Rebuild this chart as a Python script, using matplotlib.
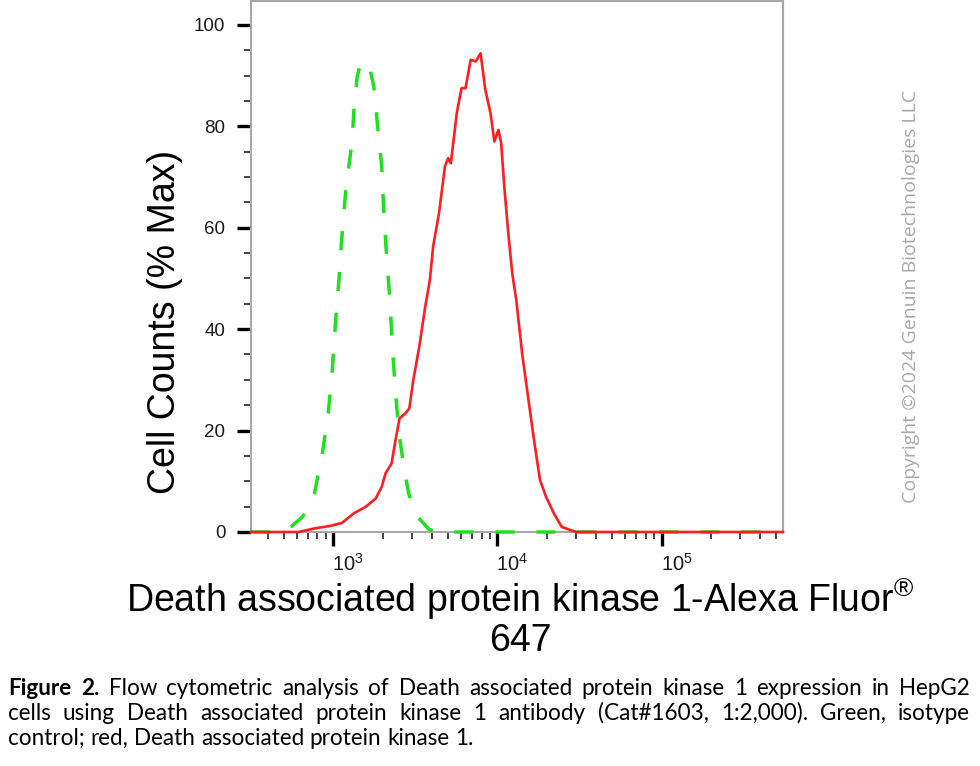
import numpy as np
import matplotlib
matplotlib.use("Agg")
import matplotlib.pyplot as plt
import matplotlib.transforms as mtransforms
from matplotlib import font_manager
from matplotlib.ticker import FixedLocator, MultipleLocator, LogLocator, NullFormatter

# ---------------- data ----------------
green_x = [315, 480, 550, 649, 767, 857, 931, 985, 1040, 1082, 1119, 1195, 1298, 1335,
           1397, 1476, 1667, 1764, 1863, 1971, 2027, 2105, 2202, 2325, 2431, 2528, 2672,
           2874, 3250, 3838, 4300, 549000]
green_y = [0, 0, 1.0, 3.0, 7.6, 15.5, 23.4, 32.0, 43.1, 49.7, 56.9, 68.1, 76.7, 83.2,
           89.8, 92.8, 91.5, 87.8, 79.9, 72.1, 63.5, 55.0, 46.4, 33.3, 24.7, 18.8, 13.5,
           7.6, 3.0, 0.5, 0, 0]

red_x = [315, 614, 767, 958, 1130, 1335, 1579, 1811, 1971, 2081, 2263, 2392, 2531, 2749,
         2904, 3071, 3337, 3628, 3873, 4055, 4405, 4786, 5003, 5199, 5650, 6037, 6387,
         6867, 7379, 7888, 8430, 9065, 9571, 10130, 10530, 11000, 11640, 12300, 13010,
         14130, 15350, 16700, 18150, 19720, 22030, 24620, 28270, 30500, 549000]
red_y = [0, 0, 0.7, 1.2, 1.8, 3.7, 5.0, 6.6, 8.9, 11.6, 13.5, 18.1, 22.4, 23.4,
         24.4, 30.0, 36.5, 44.4, 49.7, 56.3, 62.9, 72.1, 73.7, 72.7, 82.6, 87.5, 87.5,
         93.1, 92.8, 94.4, 87.2, 82.6, 77.0, 79.3, 76.7, 68.1, 58.9, 51.0, 45.8,
         35.2, 26.7, 18.1, 10.3, 7.0, 3.7, 1.0, 0.3, 0, 0]

x_major = [1e3, 1e4, 1e5]
x_major_labels = ['$10^{3}$', '$10^{4}$', '$10^{5}$']
y_major = [0, 20, 40, 60, 80, 100]
y_major_labels = ['0', '20', '40', '60', '80', '100']

xlabel_line1 = 'Death associated protein kinase 1-Alexa Fluor$^{®}$'
xlabel_line2 = '647'
ylabel_text = 'Cell Counts (% Max)'
watermark_text = 'Copyright ©2024 Genuin Biotechnologies LLC'
caption_lines = [
    [('Figure', 'bold'), ('2.', 'bold')] + [(w, 'normal') for w in
        'Flow cytometric analysis of Death associated protein kinase 1 expression in HepG2'.split()],
    [(w, 'normal') for w in
        'cells using Death associated protein kinase 1 antibody (Cat#1603, 1:2,000). Green, isotype'.split()],
    [(w, 'normal') for w in
        'control; red, Death associated protein kinase 1.'.split()],
]


# ---------------- fonts ----------------
def have(name):
    try:
        font_manager.findfont(name, fallback_to_default=False)
        return True
    except Exception:
        return False

NARROW = 'Liberation Sans Narrow' if have('Liberation Sans Narrow') else 'Liberation Sans'
ARIAL = 'Liberation Sans'
CAPFONT = 'Lato' if have('Lato') else 'DejaVu Sans'
WMFONT = 'Open Sans' if have('Open Sans') else 'DejaVu Sans'

plt.rcParams['font.family'] = [ARIAL, 'DejaVu Sans']
plt.rcParams['mathtext.fontset'] = 'custom'
plt.rcParams['mathtext.rm'] = NARROW
plt.rcParams['mathtext.it'] = NARROW
plt.rcParams['mathtext.bf'] = NARROW
plt.rcParams['mathtext.default'] = 'regular'

W, H = 980, 766
fig = plt.figure(figsize=(W / 100, H / 100), dpi=100)
fig.patch.set_facecolor('white')

def fx(px):
    return px / W

def fy(py):
    return 1 - py / H

ax = fig.add_axes([fx(251), fy(532), (783 - 251) / W, (532 - 1) / H])
ax.set_xscale('log')
ax.set_xlim(315, 5.49e5)
ax.set_ylim(0, 104.7)

ax.plot(green_x, green_y, color='#1fe01f', lw=2.5, ls=(0, (5.5, 6.3)),
        dash_capstyle='butt', clip_on=False, zorder=3)
ax.plot(red_x, red_y, color='#ff1e1e', lw=1.9, clip_on=False, zorder=4)

for s in ax.spines.values():
    s.set_color('#a8a8a8')
    s.set_linewidth(1.5)

ax.xaxis.set_major_locator(FixedLocator(x_major))
ax.set_xticklabels(x_major_labels)
ax.xaxis.set_minor_locator(LogLocator(base=10, subs=np.arange(2, 10), numticks=30))
ax.xaxis.set_minor_formatter(NullFormatter())
ax.yaxis.set_major_locator(FixedLocator(y_major))
ax.set_yticklabels(y_major_labels)
ax.yaxis.set_minor_locator(MultipleLocator(5))

ax.tick_params(axis='both', which='major', direction='out', length=10, width=2.4,
               color='black', labelcolor='#1a1a1a')
ax.tick_params(axis='x', which='major', pad=5, labelsize=14.5)
ax.tick_params(axis='y', which='major', pad=8.4, labelsize=13.5)
ax.tick_params(axis='both', which='minor', direction='out', length=5.2, width=1.4,
               color='#444444')
for lab in ax.get_yticklabels():
    lab.set_fontfamily(NARROW)
off = mtransforms.ScaledTranslation(15 / 100, 0, fig.dpi_scale_trans)
for lab in ax.get_xticklabels():
    lab.set_transform(lab.get_transform() + off)

# axis titles
fig.text(fx(165), fy(322), ylabel_text, rotation=90, ha='center', va='center',
         fontsize=27, family=ARIAL, color='black')
fig.text(fx(520), fy(612), xlabel_line1, ha='center', va='baseline',
         fontsize=27, family=ARIAL, color='black')
fig.text(fx(520), fy(651), xlabel_line2, ha='center', va='baseline',
         fontsize=27, family=ARIAL, color='black')

# watermark
fig.text(fx(911), fy(296), watermark_text, rotation=90, ha='center', va='center',
         fontsize=14, family=WMFONT, color='#a9a9a9')

# caption with justification
renderer = fig.canvas.get_renderer()

def width_of(s, size, weight):
    t = fig.text(0, 0, s, fontsize=size, fontweight=weight, family=CAPFONT)
    w = t.get_window_extent(renderer).width
    t.remove()
    return w

base_size = 14
space = width_of('a a', base_size, 'normal') - width_of('aa', base_size, 'normal')
nat = sum(width_of(w, base_size, wt) for w, wt in caption_lines[2]) + space * (len(caption_lines[2]) - 1)
cap_size = base_size * 467.0 / nat
space = space * cap_size / base_size

x0, x1 = 8, 970
baselines = [695, 720, 745]
for i, words in enumerate(caption_lines):
    widths = [width_of(w, cap_size, wt) for w, wt in words]
    if i < 2:
        gap = (x1 - x0 - sum(widths)) / (len(words) - 1)
    else:
        gap = space
    x = x0
    for (w, wt), wd in zip(words, widths):
        fig.text(fx(x), fy(baselines[i]), w, fontsize=cap_size, fontweight=wt,
                 family=CAPFONT, ha='left', va='baseline', color='black')
        x += wd + gap

fig.savefig('out.png', dpi=100, facecolor='white')
